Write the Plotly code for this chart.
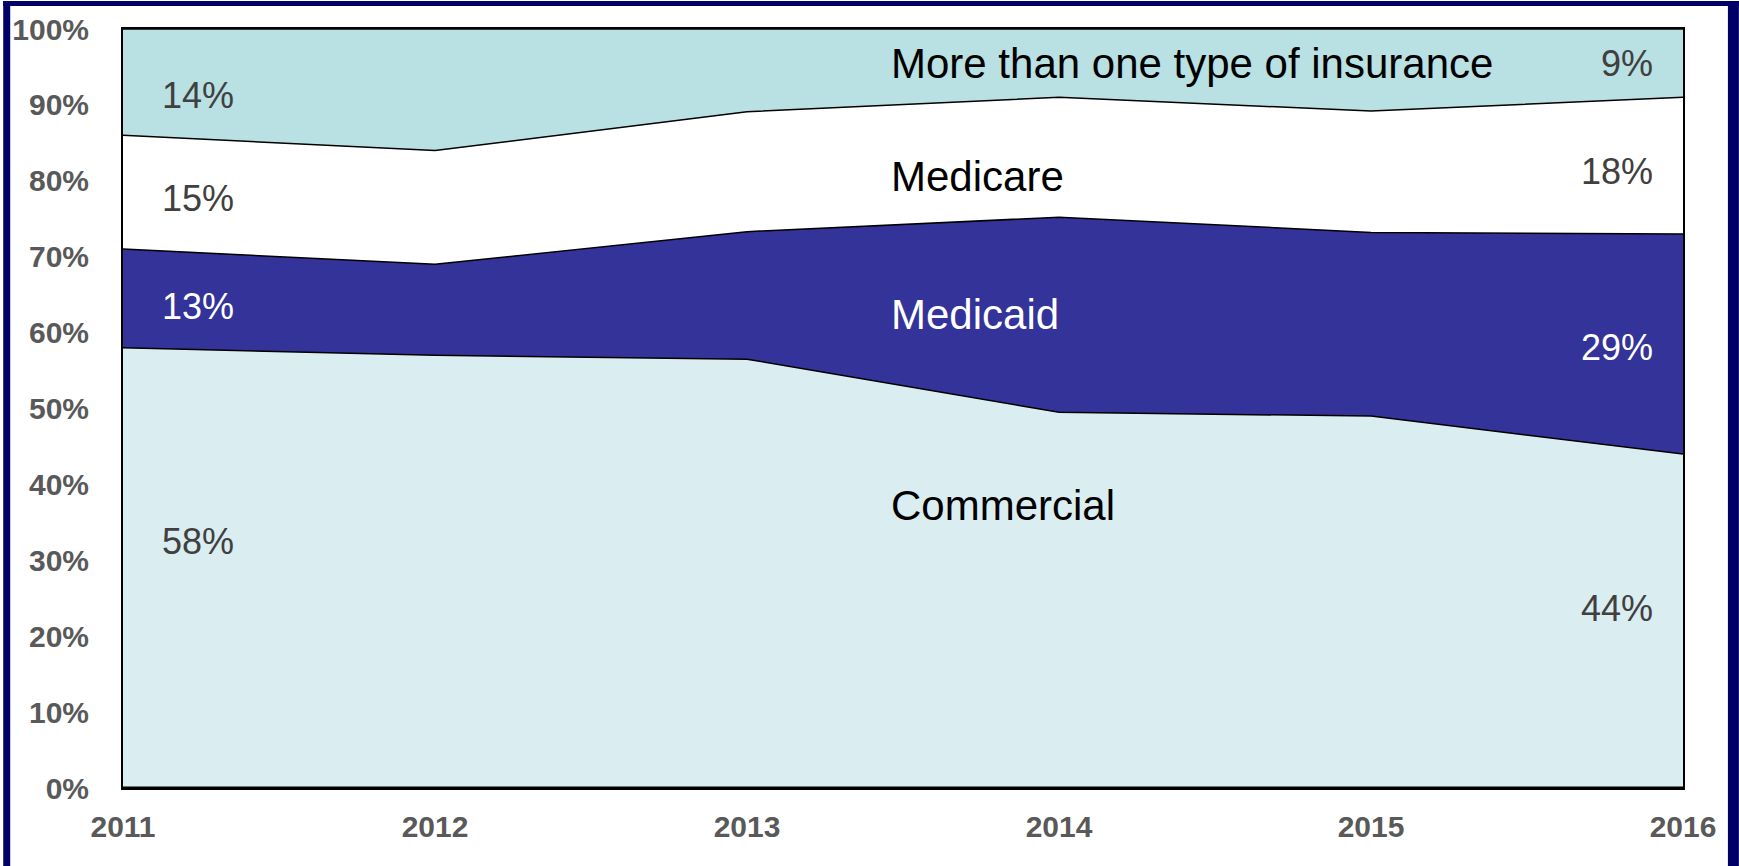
import plotly.graph_objects as go

# Share of patients by insurance type, stacked to 100%
years = [2011, 2012, 2013, 2014, 2015, 2016]
commercial = [58, 57, 56.5, 49.5, 49, 44]
medicaid = [13, 12, 16.8, 25.7, 24.2, 29]
medicare = [15, 15, 15.8, 15.8, 16, 18]
multiple = [14, 16, 10.9, 9.0, 10.8, 9]

series_names = ["Commercial", "Medicaid", "Medicare", "More than one type of insurance"]
series_values = [commercial, medicaid, medicare, multiple]
fill_colors = ["#DAEDF0", "#333399", "#FFFFFF", "#B9E0E3"]
name_colors = ["#000000", "#FFFFFF", "#000000", "#000000"]
value_colors = ["#404040", "#FFFFFF", "#404040", "#404040"]

# label placement (y in %): start-year values, end-year values, series names
start_label_y = [32.5, 63.4, 77.7, 91.3]
end_label_y = [23.6, 58.0, 81.2, 95.4]
name_label_y = [37.2, 62.4, 80.6, 95.4]

W, H = 1739, 866
L, R, T, B = 120, 56, 28, 78
pw, ph = W - L - R, H - T - B

fig = go.Figure()
for name, vals, col in zip(series_names, series_values, fill_colors):
    fig.add_trace(go.Scatter(
        x=years, y=vals, name=name, mode="lines",
        stackgroup="one", fillcolor=col,
        line=dict(color="#000000", width=1.5),
        hoverinfo="skip",
    ))

font_fam = "Liberation Sans, Arial, sans-serif"
ann = []
for i, vals in enumerate(series_values):
    ann.append(dict(
        x=(157 - L) / pw, xref="paper", y=start_label_y[i], yref="y",
        text=f"{vals[0]:.0f}%", showarrow=False, xanchor="left", yanchor="middle",
        font=dict(family=font_fam, size=36, color=value_colors[i]),
    ))
    ann.append(dict(
        x=(1655 - L) / pw, xref="paper", y=end_label_y[i], yref="y",
        text=f"{vals[-1]:.0f}%", showarrow=False, xanchor="right", yanchor="middle",
        font=dict(family=font_fam, size=36, color=value_colors[i]),
    ))
    ann.append(dict(
        x=(887 - L) / pw, xref="paper", y=name_label_y[i], yref="y",
        text=series_names[i], showarrow=False, xanchor="left", yanchor="middle",
        font=dict(family=font_fam, size=42, color=name_colors[i]),
    ))

# navy frame on the left, top and right edges of the page
def px_x(p):
    return (p - L) / pw

def px_y(p):
    return 1 - (p - T) / ph

navy = "#000066"
shapes = [
    dict(type="rect", xref="paper", yref="paper", x0=px_x(0), x1=px_x(7),
         y0=px_y(H), y1=px_y(0), fillcolor=navy, line=dict(width=0)),
    dict(type="rect", xref="paper", yref="paper", x0=px_x(0), x1=px_x(W),
         y0=px_y(5), y1=px_y(0), fillcolor=navy, line=dict(width=0)),
    dict(type="rect", xref="paper", yref="paper", x0=px_x(1728), x1=px_x(W),
         y0=px_y(H), y1=px_y(0), fillcolor=navy, line=dict(width=0)),
    # slightly heavier baseline along the bottom of the plot
    dict(type="line", xref="paper", yref="paper", x0=0, x1=1, y0=0, y1=0,
         line=dict(color="#000000", width=3), layer="above"),
]

fig.update_layout(
    width=W, height=H,
    margin=dict(l=L, r=R, t=T, b=B, pad=0),
    paper_bgcolor="#FFFFFF", plot_bgcolor="#FFFFFF",
    showlegend=False,
    annotations=ann, shapes=shapes,
    xaxis=dict(
        range=[2011, 2016], tickmode="array", tickvals=years,
        ticktext=[str(y) for y in years],
        showgrid=False, zeroline=False,
        showline=True, linecolor="#000000", linewidth=2, mirror=True,
        ticks="", ticklabelstandoff=11,
        tickfont=dict(family=font_fam, size=30, color="#595959", weight="bold"),
    ),
    yaxis=dict(
        range=[0, 100], tickmode="linear", tick0=0, dtick=10, ticksuffix="%",
        showgrid=False, zeroline=False,
        showline=True, linecolor="#000000", linewidth=2, mirror=True,
        ticks="", ticklabelstandoff=26,
        tickfont=dict(family=font_fam, size=30, color="#595959", weight="bold"),
    ),
)

fig.write_html("out.html")
